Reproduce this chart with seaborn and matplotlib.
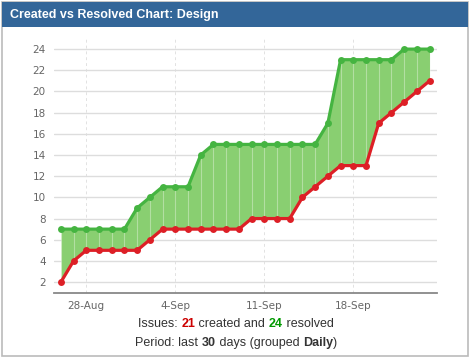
import seaborn as sns
import matplotlib.pyplot as plt
import matplotlib.dates as mdates
from matplotlib.patches import Rectangle
from matplotlib.ticker import FuncFormatter
import pandas as pd

# данные: по дням, 26-Aug .. 24-Sep
days = pd.date_range("2013-08-26", "2013-09-24", freq="D")
created = [2, 4, 5, 5, 5, 5, 5, 6, 7, 7, 7, 7, 7, 7, 7,
           8, 8, 8, 8, 10, 11, 12, 13, 13, 13, 17, 18, 19, 20, 21]
resolved = [7, 7, 7, 7, 7, 7, 9, 10, 11, 11, 11, 14, 15, 15, 15,
            15, 15, 15, 15, 15, 15, 17, 23, 23, 23, 23, 23, 24, 24, 24]
tick_days = pd.to_datetime(["2013-08-28", "2013-09-04", "2013-09-11", "2013-09-18"])
y_ticks = list(range(2, 25, 2))

df = pd.DataFrame({"day": days, "created": created, "resolved": resolved})

sns.set_style("white")
plt.rcParams["font.family"] = ["Liberation Sans", "DejaVu Sans"]

GREEN = "#45b441"
FILL = "#89cf71"
RED = "#dd1f26"

fig = plt.figure(figsize=(4.72, 3.58), dpi=100)

# рамка и заголовок виджета
fig.patches.append(Rectangle((0.004, 0.006), 0.988, 0.988, transform=fig.transFigure,
                             fill=False, edgecolor="#bbbbbb", lw=1.2))
fig.patches.append(Rectangle((0.004, 0.925), 0.988, 0.069, transform=fig.transFigure,
                             facecolor="#336699", edgecolor="none"))
fig.text(0.022, 0.958, "Created vs Resolved Chart: Design", color="white",
         fontsize=9, fontweight="bold", va="center", ha="left")

ax = fig.add_axes([0.1144, 0.1816, 0.8114, 0.7123])

ax.fill_between(df["day"], df["created"], df["resolved"], color=FILL, lw=0, zorder=1)
ax.vlines(df["day"], df["created"], df["resolved"], color="white", alpha=0.35, lw=0.8, zorder=1.5)
sns.lineplot(data=df, x="day", y="resolved", ax=ax, color=GREEN, lw=2.3,
             marker="o", markersize=5, markeredgewidth=0, zorder=3)
sns.lineplot(data=df, x="day", y="created", ax=ax, color=RED, lw=2.3,
             marker="o", markersize=5, markeredgewidth=0, zorder=4)

ax.set_xlim(days[0] - pd.Timedelta(hours=13), days[-1] + pd.Timedelta(hours=14))
ax.set_ylim(0.97, 25.05)
ax.set_yticks(y_ticks)
ax.set_xticks(tick_days)
ax.xaxis.set_major_formatter(FuncFormatter(
    lambda v, pos: "{}-{}".format(mdates.num2date(v).day, mdates.num2date(v).strftime("%b"))))

ax.grid(axis="y", color="#dddddd", lw=1, zorder=0)
ax.grid(axis="x", color="#e2e2e2", lw=0.7, ls=(0, (3, 3)), zorder=0)
ax.set_axisbelow(True)
for s in ["top", "right", "left"]:
    ax.spines[s].set_visible(False)
ax.spines["bottom"].set_color("#888888")
ax.spines["bottom"].set_linewidth(1.3)
ax.tick_params(length=0, labelsize=8, labelcolor="#666666", pad=6)
for lab in ax.get_xticklabels() + ax.get_yticklabels():
    lab.set_family(["DejaVu Sans"])
    lab.set_fontsize(7.5)
ax.set_xlabel("")
ax.set_ylabel("")

# подпись снизу с цветными числами, кусочки ставим друг за другом
renderer = fig.canvas.get_renderer()

def chain(parts, xc, y):
    texts = [fig.text(0, y, t, color=c, fontweight=w, fontsize=9,
                      ha="left", va="baseline") for t, c, w in parts]
    widths = [t.get_window_extent(renderer).width for t in texts]
    x = xc * fig.bbox.width - sum(widths) / 2
    for t, w in zip(texts, widths):
        t.set_x(x / fig.bbox.width)
        x += w

grey = "#333333"
chain([("Issues: ", grey, "normal"), ("21", "#cc0000", "bold"),
       (" created and ", grey, "normal"), ("24", "#009900", "bold"),
       (" resolved", grey, "normal")], 236 / 472, 1 - 327 / 358)
chain([("Period: last ", grey, "normal"), ("30", grey, "bold"),
       (" days (grouped ", grey, "normal"), ("Daily", grey, "bold"),
       (")", grey, "normal")], 236 / 472, 1 - 346 / 358)

fig.savefig("out.png", dpi=100)
